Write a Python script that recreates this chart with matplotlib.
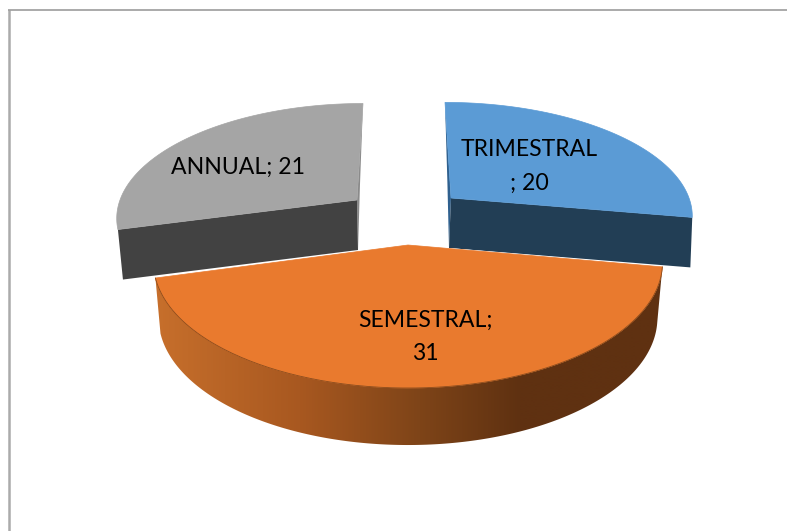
#!/usr/bin/env python3
"""Exploded 3D-style pie: periodicity counts, slice angles come from the values."""
import numpy as np
import matplotlib
matplotlib.use("Agg")
import matplotlib.pyplot as plt
from matplotlib.patches import Polygon

plt.rcParams["font.family"] = ["Lato", "DejaVu Sans"]

# data
categories = ["TRIMESTRAL", "SEMESTRAL", "ANNUAL"]
values = [20, 31, 21]

# look of each slice: top colour, front wall colour, radial strip colour
TOP = ["#5B9BD5", "#E97A2E", "#A5A5A5"]
WALL = ["#223E55", "#5F3111", "#424242"]
STRIP = ["#2F608E", "#C26A2B", "#8A8A8A"]
# apex x, apex y, rx, ry, depth, bottom shrink, lean of far rim, apex bottom shift (px)
GEOM = [(451, 198, 238, 109, 50, 0.992, 6, -2),
        (408, 245, 252, 123, 55, 0.980, 0, 0),
        (357, 200, 237, 110, 50, 0.979, -6, 1)]
PERSP = 0.14
FS = 16.6

fig = plt.figure(figsize=(7.87, 5.31), dpi=100)
ax = fig.add_axes([0, 0, 1, 1])

# chart frame, only top and left survive the crop
ax.plot([8.8, 8.8], [10, 531], color="#ABABAB", lw=1.8, solid_capstyle="butt")
ax.plot([8, 787], [10.3, 10.3], color="#939393", lw=1.1, solid_capstyle="butt")


def rim(theta, g):
    cx, cy, rx, ry = g[:4]
    lean = g[6]
    u, v = np.sin(theta), -np.cos(theta)
    w = 1 - PERSP * v
    return cx + rx * u / w + lean * v, cy + ry * v / w


def drop(x, y, g, v=0.0):
    cx, d, s = g[0], g[4], g[5]
    return cx + (x - cx) * s, y + d + 2 * v


edges = np.cumsum([0] + values) / sum(values) * 2 * np.pi
order = [2, 0, 1]  # orange slice sits in front
for i in order:
    g = GEOM[i]
    cx, cy = g[0], g[1]
    th = np.linspace(edges[i], edges[i + 1], 200)
    x, y = rim(th, g)

    if i == 1:
        # curved outer wall, shaded left to right through a clipped gradient
        xb, yb = drop(x, y, g, -np.cos(th))
        wall = Polygon(np.c_[np.r_[x, xb[::-1]], np.r_[y, yb[::-1]]], closed=True,
                       transform=ax.transData, fc="none", ec="none")
        ax.add_patch(wall)
        stops_x = [150, 300, 420, 520, 670]
        stops = np.array([[0xC8, 0x70, 0x2C], [0xA8, 0x58, 0x20],
                          [0x7E, 0x44, 0x18], [0x5F, 0x31, 0x11], [0x5F, 0x31, 0x11]]) / 255
        xs = np.arange(150, 671)
        grad = np.stack([np.interp(xs, stops_x, stops[:, c]) for c in range(3)], axis=-1)[None, :, :]
        im = ax.imshow(grad, extent=(150, 670, 450, 260), aspect="auto", zorder=3, interpolation="bilinear")
        im.set_clip_path(wall)
    else:
        # radial walls seen from the gap and from the front
        if i == 0:
            far_x, far_y, near_x, near_y = x[0], y[0], x[-1], y[-1]
        else:
            far_x, far_y, near_x, near_y = x[-1], y[-1], x[0], y[0]
        bx, by = drop(cx, cy, g)
        bx = bx + g[7]
        ax.fill([far_x, cx, bx, far_x + (bx - far_x) * 0.6], [far_y, cy, by, far_y + (by - far_y) * 0.55],
                color=STRIP[i], lw=0, zorder=1)
        nbx, nby = drop(near_x, near_y, g)
        ax.fill([cx, near_x, nbx, bx], [cy, near_y, nby, by], color=WALL[i], lw=0, zorder=2)

    px = np.r_[cx, x]
    py = np.r_[cy, y]
    ax.fill(px, py, color=TOP[i], lw=0.5, zorder=4)
    if i == 1:
        ax.plot(x, y, color="#8A4A1A", lw=0.6, zorder=5)
        ax.plot([x[0], cx, x[-1]], [y[0], cy, y[-1]], color="white", lw=0.8, zorder=2.5)

ax.set_xlim(0, 787)
ax.set_ylim(531, 0)
ax.axis("off")

# labels
ax.text(529, 150, categories[0], ha="center", va="center", fontsize=FS, color="black", zorder=6)
ax.text(529, 183, f"; {values[0]}", ha="center", va="center", fontsize=FS, color="black", zorder=6)
ax.text(425, 320, f"{categories[1]};", ha="center", va="center", fontsize=FS, color="black", zorder=6)
ax.text(425, 353, f"{values[1]}", ha="center", va="center", fontsize=FS, color="black", zorder=6)
ax.text(238, 167, f"{categories[2]}; {values[2]}", ha="center", va="center", fontsize=FS, color="black", zorder=6)

fig.savefig("out.png", dpi=100)
